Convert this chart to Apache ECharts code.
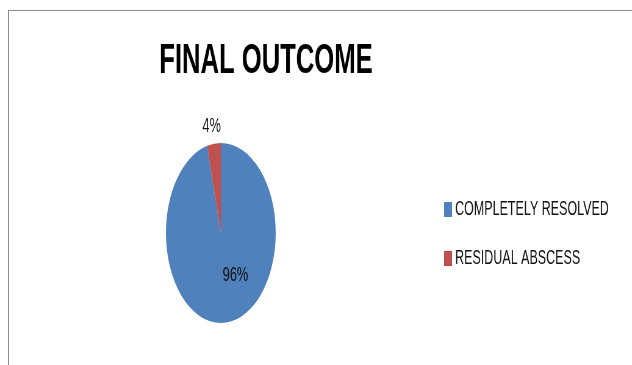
<!DOCTYPE html>
<html>
<head>
<meta charset="utf-8">
<script src="https://cdn.jsdelivr.net/npm/echarts@6/dist/echarts.min.js"></script>
<style>
  html, body { margin: 0; padding: 0; background: #fff; overflow: hidden; width: 632px; height: 365px; }
  /* thin frame around the chart area */
  #frame { position: absolute; left: 8px; top: 10px; width: 700px; height: 400px;
           border-left: 1px solid #8c8c8c; border-top: 1px solid #8c8c8c; }
  /* the chart is drawn wide and squeezed horizontally */
  #chart { position: absolute; left: 0; top: 0; width: 1036px; height: 365px;
           transform: scaleX(0.61); transform-origin: 0 0; }
</style>
</head>
<body>
<div id="frame"></div>
<div id="chart"></div>
<script>
const titleText = 'FINAL OUTCOME';
const categories = ['COMPLETELY RESOLVED', 'RESIDUAL ABSCESS'];
const values = [96, 4];
const colors = ['#4F81BD', '#C0504D'];

const font = '"Liberation Sans", Arial, sans-serif';

const chart = echarts.init(document.getElementById('chart'), null, { renderer: 'canvas' });

chart.setOption({
  animation: false,
  backgroundColor: 'transparent',
  color: colors,
  graphic: [{
    type: 'text',
    x: 436,
    y: 61,
    style: {
      text: titleText,
      font: 'bold 42px ' + font,
      fill: '#000',
      textAlign: 'center',
      textVerticalAlign: 'middle'
    }
  }],
  legend: {
    orient: 'vertical',
    left: 723,
    top: 194,
    itemWidth: 13,
    itemHeight: 15,
    itemGap: 28,
    icon: 'rect',
    selectedMode: false,
    textStyle: { fontSize: 20.5, color: '#111', fontFamily: font },
    data: categories
  },
  series: [{
    type: 'pie',
    center: [362, 233],
    radius: 90,
    startAngle: 90,
    clockwise: true,
    silent: true,
    itemStyle: { borderWidth: 0 },
    label: {
      show: true,
      position: 'inside',
      color: '#111',
      fontSize: 21,
      fontFamily: font,
      formatter: p => p.value + '%'
    },
    labelLine: { show: false },
    labelLayout: p => (p.dataIndex === 0 ? { dx: 18, dy: -5 } : { dx: -9, dy: -59 }),
    data: categories.map((name, i) => ({ name, value: values[i] }))
  }]
});
</script>
</body>
</html>
